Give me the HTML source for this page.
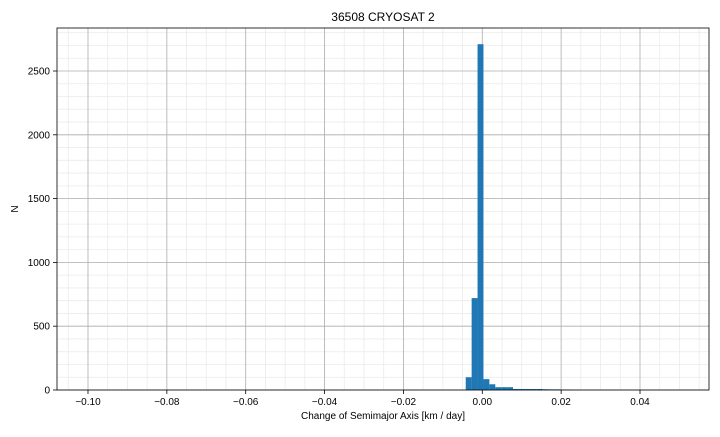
<!DOCTYPE html>
<html><head><meta charset="utf-8"><style>
body{margin:0;background:#fff;font-family:"Liberation Sans",sans-serif}
</style></head><body>
<svg id="chart" width="720" height="432" xmlns="http://www.w3.org/2000/svg">
<rect width="720" height="432" fill="#fff"/>
<g id="grid"></g><g id="bars"></g><g id="axes"></g>
<text x="383" y="21" font-size="12" text-anchor="middle">36508 CRYOSAT 2</text>
<text x="383" y="419" font-size="10" text-anchor="middle">Change of Semimajor Axis [km / day]</text>
<text x="18" y="209" font-size="10" text-anchor="middle" transform="rotate(-90 18 209)">N</text>
</svg>
<script>
const binStart = -0.0042;
const binWidth = 0.0015;
const counts = [100,720,2710,85,45,22,22,22,8,8,8,8,8,6,5,5,4,3];
const xTicks = [-0.10,-0.08,-0.06,-0.04,-0.02,0.00,0.02,0.04];
const xTickLabels = ["−0.10","−0.08","−0.06","−0.04","−0.02","0.00","0.02","0.04"];
const yTicks = [0,500,1000,1500,2000,2500];

const L=57,R=709,T=28,B=390;
const xMin=-0.10786,xMax=0.0575,yMax=2837;
const sx=v=>L+(v-xMin)/(xMax-xMin)*(R-L);
const sy=v=>B-v/yMax*(B-T);
const NS="http://www.w3.org/2000/svg";
function mk(tag,attrs,parent){const e=document.createElementNS(NS,tag);for(const k in attrs)e.setAttribute(k,attrs[k]);document.getElementById(parent).appendChild(e);return e;}

for(let v=-0.105;v<=0.056;v+=0.005){const x=sx(v);if(x<L||x>R)continue;
 const l=mk('line',{x1:x,x2:x,y1:T,y2:B,stroke:'#ebebeb','stroke-width':0.8},'grid');
 
 }
for(let v=100;v<yMax;v+=100){const y=sy(v);
 const l=mk('line',{x1:L,x2:R,y1:y,y2:y,stroke:'#ebebeb','stroke-width':0.8},'grid');
 
 }
xTicks.forEach((v,i)=>{const x=sx(v);
 const l=mk('line',{x1:x,x2:x,y1:T,y2:B,stroke:'#b0b0b0','stroke-width':0.8},'grid');
 
 
 mk('line',{x1:x,x2:x,y1:B,y2:B+4,stroke:'#000','stroke-width':0.8},'axes');
 const t=mk('text',{x:x,y:B+15,'font-size':10,'text-anchor':'middle'},'axes');t.textContent=xTickLabels[i];
 
 });
yTicks.forEach(v=>{const y=sy(v);
 const l=mk('line',{x1:L,x2:R,y1:y,y2:y,stroke:'#b0b0b0','stroke-width':0.8},'grid');
 
 
 mk('line',{x1:L-4,x2:L,y1:y,y2:y,stroke:'#000','stroke-width':0.8},'axes');
 const t=mk('text',{x:L-7,y:y+3.5,'font-size':10,'text-anchor':'end'},'axes');t.textContent=v;
 
 });
counts.forEach((c,i)=>{const x0=sx(binStart+i*binWidth),x1=sx(binStart+(i+1)*binWidth);
 const r=mk('rect',{x:x0,y:sy(c),width:x1-x0,height:B-sy(c),fill:'#1f77b4'},'bars');
 
 });
const f=mk('rect',{x:L,y:T,width:R-L,height:B-T,fill:'none',stroke:'#000','stroke-width':0.8},'axes');


</script>
</body></html>
